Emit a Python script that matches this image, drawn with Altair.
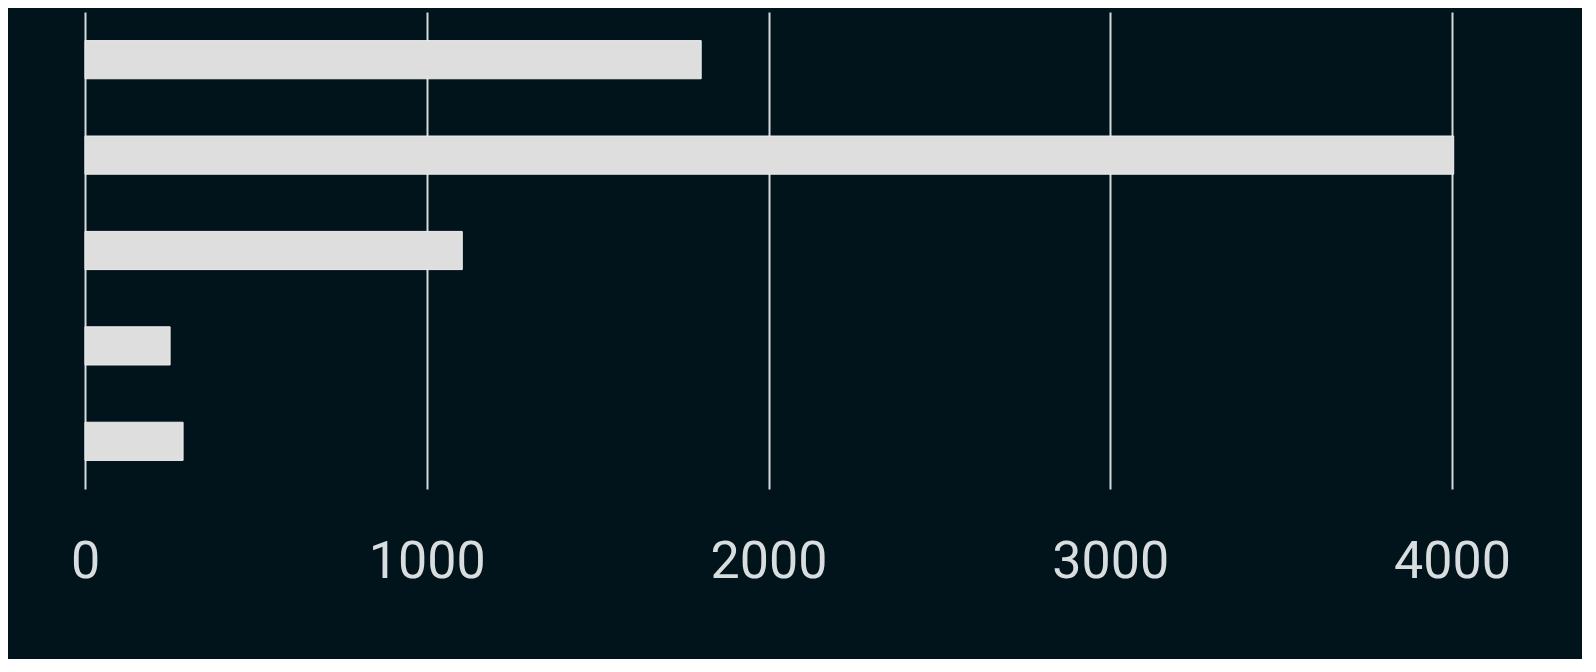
import altair as alt
import pandas as pd

categories = ["A", "B", "C", "D", "E"]
values = [1803, 4005, 1104, 249, 287]
x_ticks = [0, 1000, 2000, 3000, 4000]

df = pd.DataFrame({"category": categories, "value": values})

chart = (
    alt.Chart(df)
    .mark_bar(color="#dedede", stroke="#eeeeee", strokeWidth=1)
    .encode(
        x=alt.X(
            "value:Q",
            scale=alt.Scale(domain=[0, 4000], nice=False),
            axis=alt.Axis(
                values=x_ticks,
                format="d",
                title=None,
                ticks=False,
                domain=False,
                grid=True,
                gridColor="#d6dadc",
                gridWidth=2,
                gridOpacity=1,
                labelFont="Roboto",
                labelFontSize=52,
                labelColor="#d8dde0",
                labelPadding=47,
                labelFlush=False,
            ),
        ),
        y=alt.Y(
            "category:N",
            sort=categories,
            scale=alt.Scale(paddingInner=0.6, paddingOuter=0.3),
            axis=None,
        ),
    )
    .properties(
        width=1367,
        height=477,
        background="#02141b",
        padding={"left": 77, "top": 4, "right": 130, "bottom": 170},
        autosize=alt.AutoSizeParams(type="none"),
    )
    .configure_view(stroke=None)
)

chart.save("out.html", embed_options={"renderer": "svg", "actions": False})
